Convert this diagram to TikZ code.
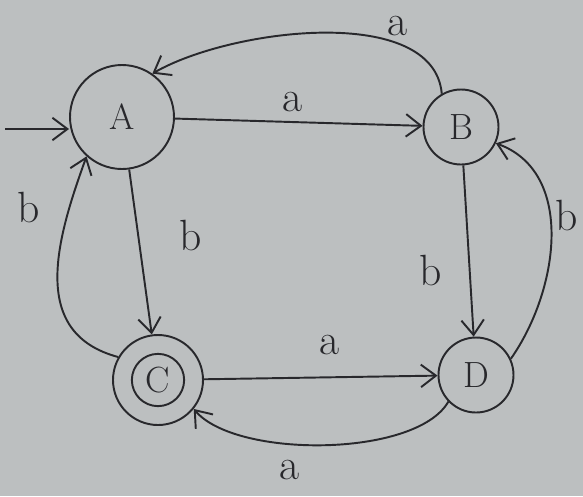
\documentclass[tikz,border=0pt]{standalone}
\usepackage{xcolor}
\usepackage{tikz}
\usetikzlibrary{
arrows.meta,
positioning
}
\definecolor{dfapaper}{RGB}{188,191,192}
\definecolor{dfaink}{RGB}{40,40,44}

\tikzset{
  state/.style={circle, draw=dfaink, line width=1.1pt, font=\huge, text=dfaink},
  trans/.style={->, draw=dfaink, line width=1.1pt},
  lbl/.style={font=\Huge, text=dfaink, inner sep=1pt}
}

\begin{document}
\begin{tikzpicture}[
  >={Straight Barb[length=3mm, width=4.5mm]}
]

%% ── PAPER ───────────────────────────────────────────────────────
\fill[dfapaper] (0,0) rectangle (11.66,-9.92);
\useasboundingbox (0,0) rectangle (11.66,-9.92);

%% ── STATES ──────────────────────────────────────────────────────
\node[state, minimum size=2.08cm] (A) at (2.44,-2.34) {A};
\node[state, minimum size=1.5cm]  (B) at (9.22,-2.54) {B};
\node[state, minimum size=1.8cm]  (C) at (3.16,-7.60) {};
\node[state, minimum size=0.95cm] (Cin) at (C) {C};
\node[state, minimum size=1.5cm]  (D) at (9.52,-7.50) {D};

%% ── START ───────────────────────────────────────────────────────
\coordinate (start) at (0.1,-2.58);
\draw[trans] (start) -- (start -| A.west);

%% ── TRANSITIONS ─────────────────────────────────────────────────
\draw[trans] (A) -- (B);
\node[lbl] (lab) at (5.86,-2.04) {a};

\draw[trans] (B.120) to[out=95, in=30, looseness=0.8] (A.55);
\node[lbl] (lba) at (7.96,-0.52) {a};

\draw[trans] (A) -- (C);
\node[lbl] (lac) at (3.82,-4.70) {b};

\draw[trans] (C.150) to[out=165, in=250, looseness=1.15] (A.228);
\node[lbl] (lca) at (0.58,-4.14) {b};

\draw[trans] (B) -- (D);
\node[lbl] (lbd) at (8.62,-5.40) {b};

\draw[trans] (D.25) to[out=55, in=-20] (B.-25);
\node[lbl] (ldb) at (11.34,-4.30) {b};

\draw[trans] (C) -- (D);
\node[lbl] (lcd) at (6.60,-6.90) {a};

\draw[trans] (D.224) to[out=240, in=-50, looseness=0.65] (C.-39);
\node[lbl] (ldc) at (5.80,-9.40) {a};

\end{tikzpicture}
\end{document}
